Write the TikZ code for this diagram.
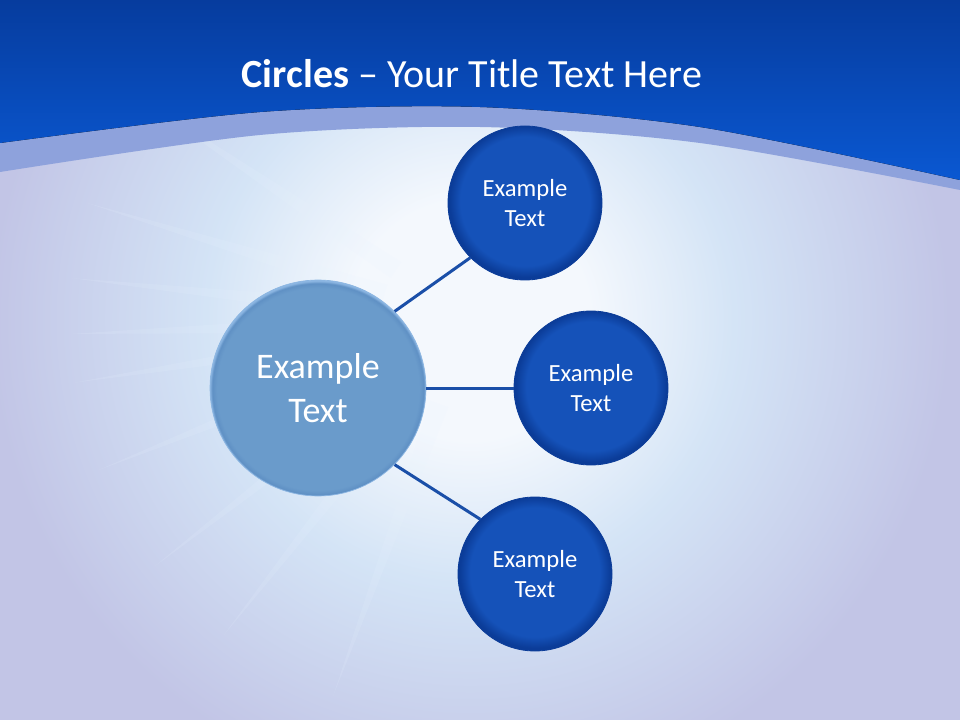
\documentclass[tikz,border=0pt]{standalone}
\usepackage{fontspec}
\setmainfont{Carlito}
\usepackage{tikz}

\definecolor{bandtop}{HTML}{063C9E}
\definecolor{bandlow}{HTML}{0A58D2}
\definecolor{bandlight}{HTML}{8EA2DC}
\definecolor{paper}{HTML}{C2C5E6}
\definecolor{glow}{HTML}{F4F8FD}
\definecolor{glowblue}{HTML}{D4E4F6}
\definecolor{ray}{HTML}{EAF4FF}
\definecolor{bubin}{HTML}{1552B9}
\definecolor{bubout}{HTML}{0B3C98}
\definecolor{hubin}{HTML}{6A9BCB}
\definecolor{hubdark}{HTML}{5F90C4}
\definecolor{hubrim}{HTML}{8CB6E2}
\definecolor{linkcol}{HTML}{1A4FA8}

\pgfdeclareradialshading{bubshade}{\pgfpoint{0bp}{1bp}}{color(0bp)=(bubin); color(21bp)=(bubin); color(24.5bp)=(bubout); color(25bp)=(bubout); color(50bp)=(bubout)}
\pgfdeclareradialshading{hubshade}{\pgfpoint{0bp}{-0.5bp}}{color(0bp)=(hubin); color(23.4bp)=(hubin); color(24.5bp)=(hubdark); color(25bp)=(hubrim); color(50bp)=(hubrim)}
\pgfdeclareradialshading{glowshade}{\pgfpoint{0bp}{0bp}}{color(0bp)=(glow); color(5bp)=(glow); color(11bp)=(glowblue); color(20bp)=(paper); color(50bp)=(paper)}

\begin{document}
\begin{tikzpicture}[x=0.75pt,y=-0.75pt]

	\tikzset{bubble/.style = {shape=circle,shading=bubshade,draw=bubout,line width=0.6pt,minimum size=115.5pt,inner sep=0pt,align=center,text=white,font=\fontsize{18.5}{22.5}\selectfont}}
	\tikzset{hub/.style = {shape=circle,shading=hubshade,draw=hubrim,line width=0.5pt,minimum size=162pt,inner sep=0pt,align=center,text=white,font=\fontsize{27}{33}\selectfont}}
	\tikzset{link/.style = {draw=linkcol,line width=2.25pt}}
	\useasboundingbox (0,0) rectangle (960,720);
	% background
	\fill[paper] (0,0) rectangle (960,720);
	\shade[shading=glowshade] (470,320) circle (600);
	\foreach \a in {158,171,178,186,197,128,142,110,214}
		\fill[ray,opacity=0.14] ([shift={(\a-6:90)}]470,320) -- ([shift={(\a:400)}]470,320) -- ([shift={(\a+6:90)}]470,320) -- cycle;
	\fill[bandlight] (0,0) -- plot[smooth] coordinates {(0,172) (260,135) (480,127) (700,143) (960,190)} -- (960,0) -- cycle;
	\fill[top color=bandtop,bottom color=bandlow] (0,0) -- plot[smooth] coordinates {(0,143) (260,112) (480,107) (700,127) (960,180)} -- (960,0) -- cycle;
	% title
	\node[text=white,font=\fontsize{30}{36}\selectfont] (title) at (472,74) {\textbf{Circles} -- Your Title Text Here};
	% vertices
	\node[hub] (h) at (318,388) {Example\\Text};
	\node[bubble] (t) at (525,203) {Example\\Text};
	\node[bubble] (m) at (591,388) {Example\\Text};
	\node[bubble] (b) at (535,574) {Example\\Text};
	%edges
	\draw[link] (h.45) to (t.225);
	\draw[link] (h.east) to (m.west);
	\draw[link] (h.-45) to (b.135);
\end{tikzpicture}
\end{document}
